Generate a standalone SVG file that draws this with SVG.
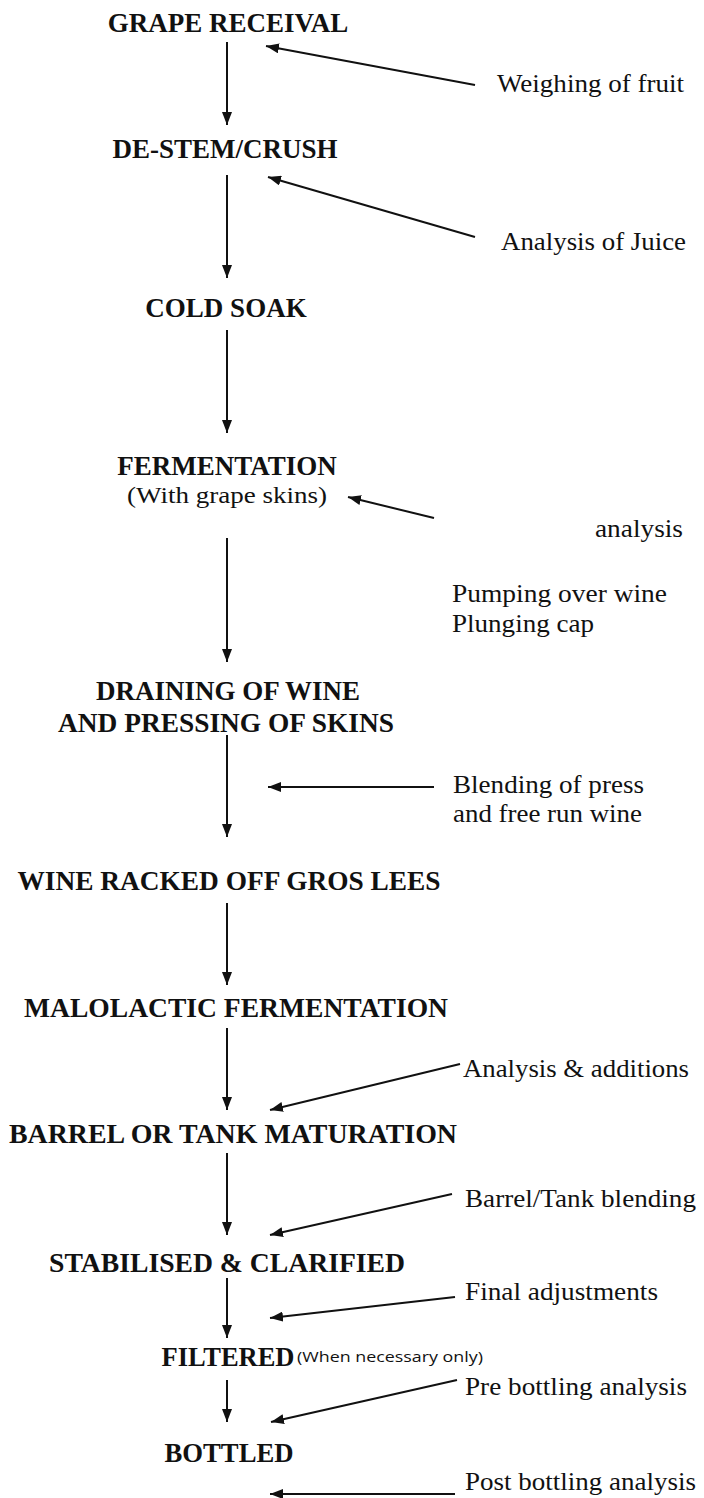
<svg xmlns="http://www.w3.org/2000/svg" width="704" height="1498" viewBox="0 0 704 1498">
<style>
.step{font-family:"Liberation Serif","Times New Roman",serif;font-weight:bold;font-size:27px;fill:#111;text-anchor:middle}
.note{font-family:"Liberation Serif","Times New Roman",serif;font-size:26px;fill:#111}
.sub{font-family:"Liberation Serif","Times New Roman",serif;font-size:24px;fill:#111;text-anchor:middle}
.small{font-family:"Open Sans","Liberation Sans",Arial,sans-serif;font-size:14px;fill:#111}
.c{stroke:#111;stroke-width:2;fill:none;marker-end:url(#ah)}
</style>
<defs>
<marker id="ah" viewBox="0 0 13 10" refX="13" refY="5" markerWidth="13" markerHeight="10" markerUnits="userSpaceOnUse" orient="auto">
<path d="M0,0 L13,5 L0,10 Z" fill="#111"/>
</marker>
</defs>
<rect width="704" height="1498" fill="#fff"/>
<g id="n1"><text class="step" x="228" y="32">GRAPE RECEIVAL</text></g>
<g id="n2"><text class="step" x="225" y="158">DE-STEM/CRUSH</text></g>
<g id="n3"><text class="step" x="226" y="317">COLD SOAK</text></g>
<g id="n4"><text class="step" x="227" y="475">FERMENTATION</text><text class="sub" x="227" y="503" textLength="200" lengthAdjust="spacingAndGlyphs">(With grape skins)</text></g>
<g id="n5"><text class="step" x="228" y="700">DRAINING OF WINE</text><text class="step" x="226" y="732" textLength="336" lengthAdjust="spacingAndGlyphs">AND PRESSING OF SKINS</text></g>
<g id="n6"><text class="step" x="229" y="890" textLength="423" lengthAdjust="spacingAndGlyphs">WINE RACKED OFF GROS LEES</text></g>
<g id="n7"><text class="step" x="236" y="1017" textLength="424" lengthAdjust="spacingAndGlyphs">MALOLACTIC FERMENTATION</text></g>
<g id="n8"><text class="step" x="233" y="1143" textLength="448" lengthAdjust="spacingAndGlyphs">BARREL OR TANK MATURATION</text></g>
<g id="n9"><text class="step" x="227" y="1272" textLength="356" lengthAdjust="spacingAndGlyphs">STABILISED &amp; CLARIFIED</text></g>
<g id="n10"><text class="step" x="228" y="1366" textLength="133" lengthAdjust="spacingAndGlyphs">FILTERED</text><text class="small" x="297" y="1362" textLength="186" lengthAdjust="spacingAndGlyphs">(When necessary only)</text></g>
<g id="n11"><text class="step" x="229" y="1462" textLength="129" lengthAdjust="spacingAndGlyphs">BOTTLED</text></g>
<g id="notes">
<text class="note" x="497" y="92" textLength="187" lengthAdjust="spacingAndGlyphs">Weighing of fruit</text>
<text class="note" x="501" y="250" textLength="185" lengthAdjust="spacingAndGlyphs">Analysis of Juice</text>
<text class="note" x="595" y="537" textLength="88" lengthAdjust="spacingAndGlyphs">analysis</text>
<text class="note" x="452" y="602" textLength="215" lengthAdjust="spacingAndGlyphs">Pumping over wine</text>
<text class="note" x="452" y="632" textLength="142" lengthAdjust="spacingAndGlyphs">Plunging cap</text>
<text class="note" x="453" y="793" textLength="191" lengthAdjust="spacingAndGlyphs">Blending of press</text>
<text class="note" x="453" y="822" textLength="189" lengthAdjust="spacingAndGlyphs">and free run wine</text>
<text class="note" x="463" y="1077" textLength="226" lengthAdjust="spacingAndGlyphs">Analysis &amp; additions</text>
<text class="note" x="465" y="1207" textLength="231" lengthAdjust="spacingAndGlyphs">Barrel/Tank blending</text>
<text class="note" x="465" y="1300" textLength="193" lengthAdjust="spacingAndGlyphs">Final adjustments</text>
<text class="note" x="465" y="1395" textLength="222" lengthAdjust="spacingAndGlyphs">Pre bottling analysis</text>
<text class="note" x="465" y="1490" textLength="231" lengthAdjust="spacingAndGlyphs">Post bottling analysis</text>
</g>
<g id="connectors">
<line class="c" x1="227" y1="42" x2="227" y2="125"/>
<line class="c" x1="227" y1="175" x2="227" y2="278"/>
<line class="c" x1="227" y1="330" x2="227" y2="433"/>
<line class="c" x1="227" y1="538" x2="227" y2="662"/>
<line class="c" x1="227" y1="735" x2="227" y2="837"/>
<line class="c" x1="227" y1="903" x2="227" y2="985"/>
<line class="c" x1="227" y1="1028" x2="227" y2="1110"/>
<line class="c" x1="227" y1="1153" x2="227" y2="1235"/>
<line class="c" x1="227" y1="1278" x2="227" y2="1338"/>
<line class="c" x1="227" y1="1380" x2="227" y2="1422"/>
<line class="c" x1="475" y1="85" x2="266" y2="46"/>
<line class="c" x1="475" y1="237" x2="268" y2="177"/>
<line class="c" x1="434" y1="518" x2="348" y2="497"/>
<line class="c" x1="434" y1="787" x2="268" y2="787"/>
<line class="c" x1="460" y1="1064" x2="270" y2="1110"/>
<line class="c" x1="452" y1="1194" x2="270" y2="1235"/>
<line class="c" x1="455" y1="1297" x2="270" y2="1318"/>
<line class="c" x1="457" y1="1380" x2="271" y2="1422"/>
<line class="c" x1="455" y1="1494" x2="270" y2="1494"/>
</g>
</svg>
